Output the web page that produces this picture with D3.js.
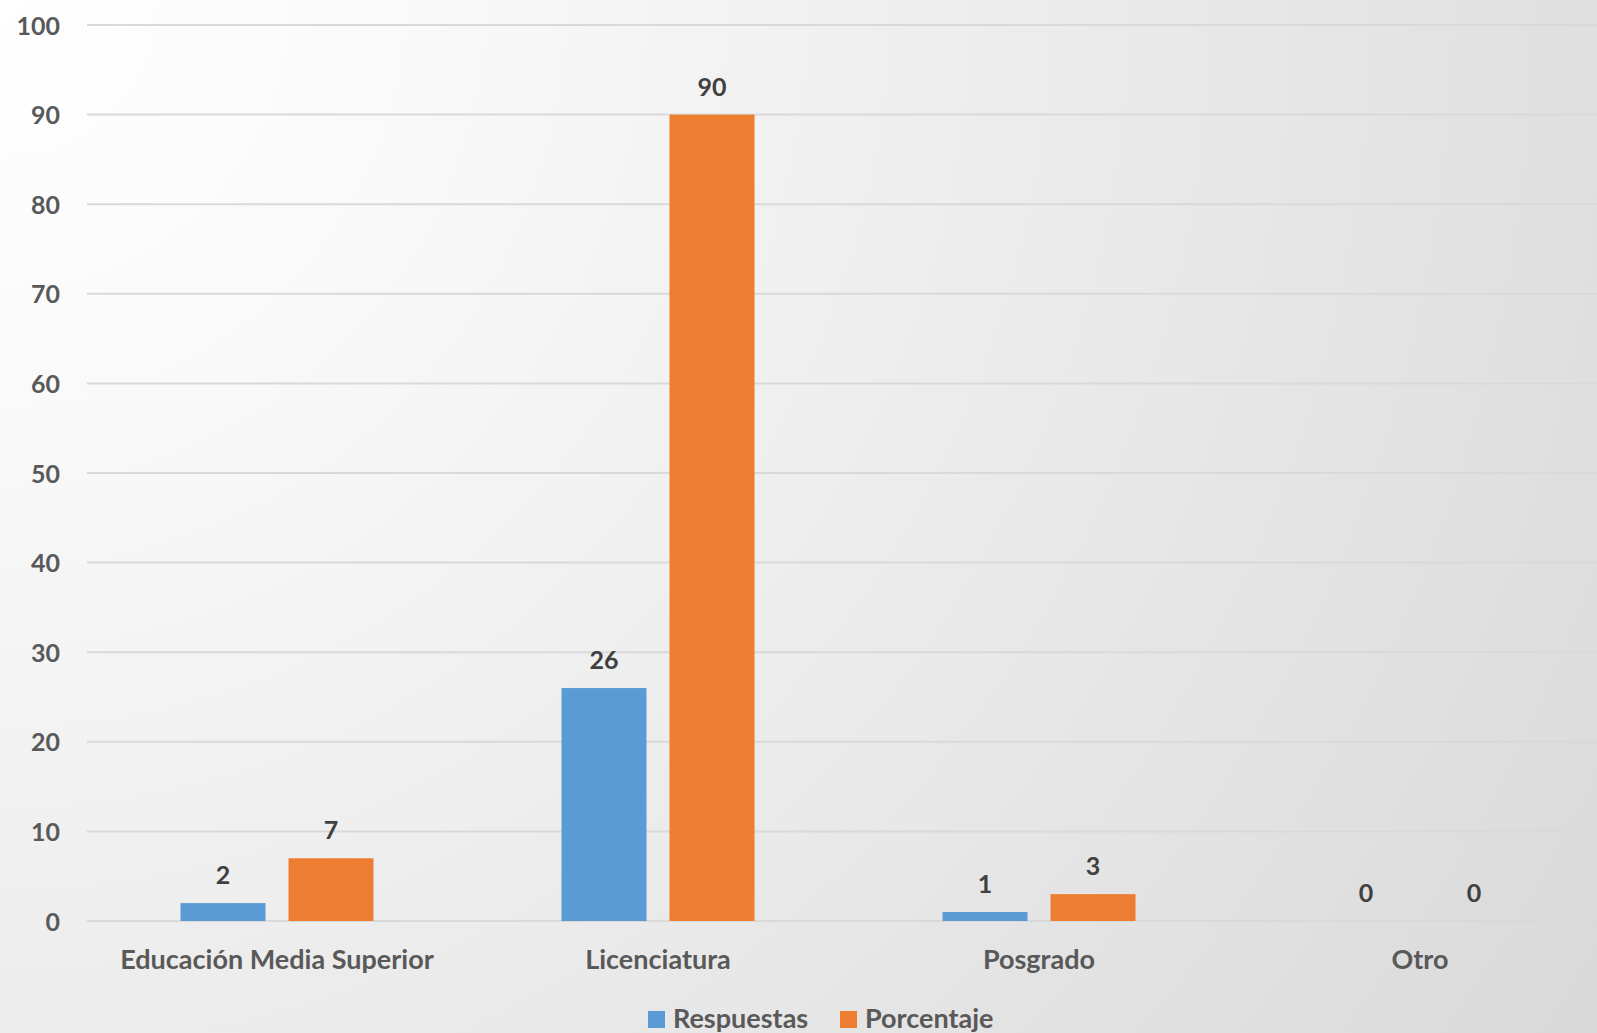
<!DOCTYPE html>
<html>
<head>
<meta charset="utf-8">
<script src="https://cdn.jsdelivr.net/npm/d3@7"></script>
<style>
  body { margin: 0; overflow: hidden; }
  text { font-family: Lato, "Open Sans", sans-serif; font-weight: 700; }
</style>
</head>
<body>
<div id="vis"></div>
<script>
// frame size and margins
const FRAME_WIDTH = 1597;
const FRAME_HEIGHT = 1033;
const MARGINS = {left: 86.5, right: 0, top: 25, bottom: 112};

// data
const categories = ["Educación Media Superior", "Licenciatura", "Posgrado", "Otro"];
const series = ["Respuestas", "Porcentaje"];
const respuestas = [2, 26, 1, 0];
const porcentaje = [7, 90, 3, 0];
const yTicks = [0, 10, 20, 30, 40, 50, 60, 70, 80, 90, 100];
const COLORS = {"Respuestas": "#5b9bd5", "Porcentaje": "#ed7d31"};

const VIS_HEIGHT = FRAME_HEIGHT - MARGINS.top - MARGINS.bottom;
const BAND = 381;

const svg = d3.select("#vis")
  .append("svg")
    .attr("width", FRAME_WIDTH)
    .attr("height", FRAME_HEIGHT);

// background gradient, white at top left fading to light grey
const defs = svg.append("defs");
const grad = defs.append("radialGradient")
    .attr("id", "bg")
    .attr("gradientUnits", "userSpaceOnUse")
    .attr("cx", 0).attr("cy", 0).attr("r", 1900);
grad.append("stop").attr("offset", 0).attr("stop-color", "#ffffff");
grad.append("stop").attr("offset", 0.2).attr("stop-color", "#fafafa");
grad.append("stop").attr("offset", 1).attr("stop-color", "#d9d9d9");

svg.append("rect")
    .attr("width", FRAME_WIDTH)
    .attr("height", FRAME_HEIGHT)
    .attr("fill", "url(#bg)");

// scales
const X0 = d3.scaleBand()
  .domain(categories)
  .range([MARGINS.left, MARGINS.left + categories.length * BAND]);

// bars 85 wide with a 23 px gap, centred in each band
const X1 = d3.scaleBand()
  .domain(series)
  .range([0, X0.bandwidth()])
  .paddingInner(23 / 108)
  .paddingOuter((BAND - 193) / 2 / 108);

const Y_SCALE = d3.scaleLinear()
  .domain([0, 100])
  .range([MARGINS.top + VIS_HEIGHT, MARGINS.top]);

// gridlines
svg.append("g")
  .selectAll("line")
  .data(yTicks)
  .enter()
  .append("line")
    .attr("x1", 87)
    .attr("x2", FRAME_WIDTH)
    .attr("y1", (d) => Y_SCALE(d))
    .attr("y2", (d) => Y_SCALE(d))
    .attr("stroke", "#d9d9d9")
    .attr("stroke-width", 2);

// y axis labels
const yAxis = svg.append("g")
  .attr("transform", "translate(60,0)")
  .call(d3.axisLeft(Y_SCALE).tickValues(yTicks).tickSize(0).tickPadding(0));
yAxis.select(".domain").remove();
yAxis.selectAll("text")
  .attr("font-size", "25px")
  .attr("fill", "#595959")
  .attr("dy", "0.36em");

// x axis labels
const xAxis = svg.append("g")
  .attr("transform", "translate(0," + (Y_SCALE(0)) + ")")
  .call(d3.axisBottom(X0).tickSize(0).tickPadding(0));
xAxis.select(".domain").remove();
xAxis.selectAll("text")
  .attr("font-size", "27px")
  .attr("fill", "#595959")
  .attr("dy", null)
  .attr("y", 48);

// bars
const rows = categories.map((c, i) => ({cat: c, vals: [
  {key: "Respuestas", value: respuestas[i]},
  {key: "Porcentaje", value: porcentaje[i]}
]}));

const groups = svg.selectAll(".group")
  .data(rows)
  .enter()
  .append("g")
    .attr("class", "group")
    .attr("transform", (d) => "translate(" + X0(d.cat) + ",0)");

groups.selectAll("rect")
  .data((d) => d.vals)
  .enter()
  .append("rect")
    .attr("x", (d) => X1(d.key))
    .attr("y", (d) => Y_SCALE(d.value))
    .attr("width", X1.bandwidth())
    .attr("height", (d) => Y_SCALE(0) - Y_SCALE(d.value))
    .attr("fill", (d) => COLORS[d.key]);

// value labels
groups.selectAll(".lbl")
  .data((d) => d.vals)
  .enter()
  .append("text")
    .attr("class", "lbl")
    .attr("x", (d) => X1(d.key) + X1.bandwidth() / 2)
    .attr("y", (d) => Y_SCALE(d.value) - 19)
    .attr("text-anchor", "middle")
    .attr("font-size", "25px")
    .attr("fill", "#404040")
    .text((d) => d.value);

// legend
const legend = svg.append("g");
const legendX = [648, 840];
series.forEach((s, i) => {
  legend.append("rect")
    .attr("x", legendX[i])
    .attr("y", 1011)
    .attr("width", 17)
    .attr("height", 17)
    .attr("fill", COLORS[s]);
  legend.append("text")
    .attr("x", legendX[i] + 25)
    .attr("y", 1028)
    .attr("font-size", "27px")
    .attr("fill", "#595959")
    .text(s);
});
</script>
</body>
</html>
